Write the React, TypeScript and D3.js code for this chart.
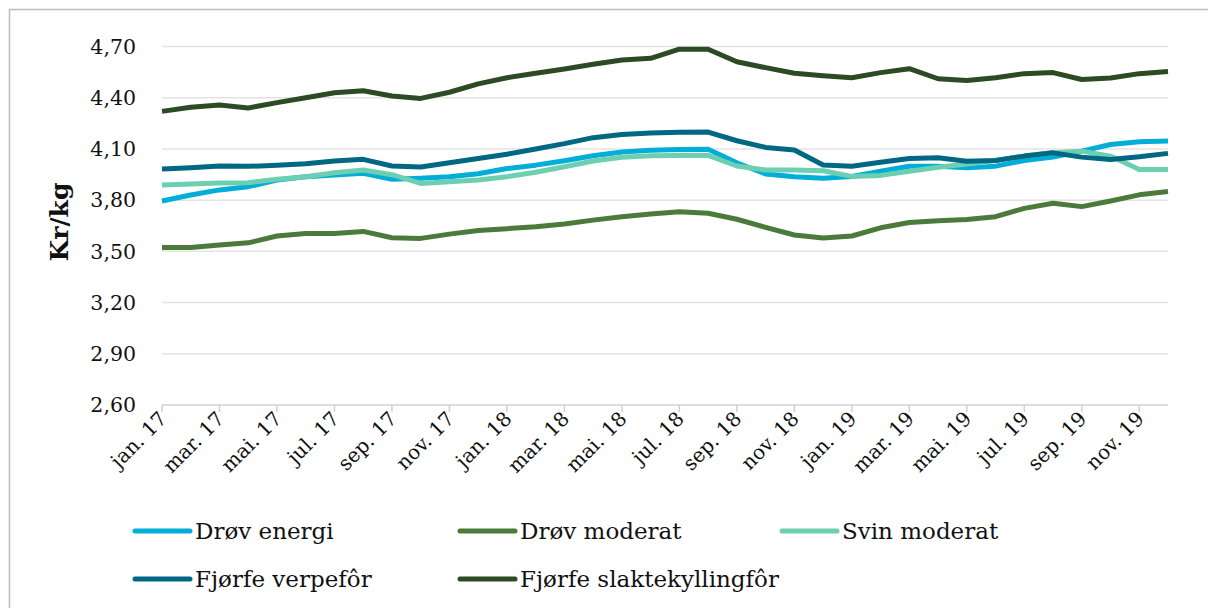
import React from "react";
import * as d3 from "d3";

const months = [
  "jan. 17","feb. 17","mar. 17","apr. 17","mai. 17","jun. 17","jul. 17","aug. 17","sep. 17","okt. 17","nov. 17","des. 17",
  "jan. 18","feb. 18","mar. 18","apr. 18","mai. 18","jun. 18","jul. 18","aug. 18","sep. 18","okt. 18","nov. 18","des. 18",
  "jan. 19","feb. 19","mar. 19","apr. 19","mai. 19","jun. 19","jul. 19","aug. 19","sep. 19","okt. 19","nov. 19","des. 19",
];

const drovEnergi = [3.795,3.83,3.86,3.879,3.918,3.937,3.947,3.957,3.922,3.928,3.937,3.955,3.985,4.005,4.031,4.06,4.082,4.092,4.096,4.098,4.019,3.953,3.937,3.928,3.939,3.969,3.999,3.999,3.989,3.999,4.032,4.052,4.087,4.126,4.142,4.146];
const drovModerat = [3.523,3.523,3.537,3.55,3.59,3.605,3.605,3.617,3.58,3.576,3.601,3.622,3.633,3.644,3.66,3.683,3.703,3.719,3.732,3.723,3.688,3.641,3.596,3.578,3.59,3.638,3.669,3.679,3.687,3.703,3.752,3.782,3.762,3.795,3.831,3.85];
const svinModerat = [3.888,3.894,3.9,3.902,3.922,3.937,3.961,3.977,3.949,3.898,3.908,3.918,3.937,3.963,3.996,4.029,4.051,4.06,4.062,4.062,4.0,3.977,3.977,3.972,3.939,3.945,3.969,3.993,4.012,4.032,4.058,4.077,4.087,4.058,3.979,3.979];
const fjorfeVerpefor = [3.982,3.99,4.0,3.998,4.004,4.013,4.029,4.039,4.0,3.994,4.019,4.044,4.069,4.1,4.131,4.166,4.185,4.193,4.197,4.199,4.148,4.109,4.094,4.006,3.999,4.022,4.044,4.048,4.028,4.032,4.058,4.077,4.052,4.038,4.054,4.074];
const fjorfeSlakte = [4.32,4.344,4.357,4.34,4.371,4.4,4.429,4.441,4.41,4.396,4.432,4.481,4.517,4.543,4.568,4.596,4.621,4.631,4.684,4.684,4.611,4.576,4.543,4.529,4.517,4.547,4.57,4.511,4.501,4.517,4.541,4.547,4.507,4.515,4.541,4.554];

const yTicks = [2.6, 2.9, 3.2, 3.5, 3.8, 4.1, 4.4, 4.7];

const series = [
  { name: "Drøv energi", values: drovEnergi, color: "#00AED8" },
  { name: "Drøv moderat", values: drovModerat, color: "#4A7B3A" },
  { name: "Svin moderat", values: svinModerat, color: "#6CCFB1" },
  { name: "Fjørfe verpefôr", values: fjorfeVerpefor, color: "#006882" },
  { name: "Fjørfe slaktekyllingfôr", values: fjorfeSlakte, color: "#2C4A24" },
];

const legendPos = [
  { x: 135, y: 531 },
  { x: 460, y: 531 },
  { x: 782, y: 531 },
  { x: 135, y: 579 },
  { x: 460, y: 579 },
];

const FONT = "'DejaVu Serif', Georgia, serif";

export default function App() {
  const x = d3.scaleLinear().domain([0, months.length - 1]).range([162, 1168]);
  const y = d3.scaleLinear().domain([2.6, 4.7]).range([405, 46.5]);
  const fmt = (v: number) => d3.format(".2f")(v).replace(".", ",");
  const line = d3
    .line<number>()
    .x((_, i) => x(i))
    .y((d) => y(d));

  return (
    <div style={{ position: "absolute", left: 0, top: 0 }}>
      <svg width={1208} height={608} style={{ display: "block", background: "#fff" }}>
        <rect x={9.5} y={9.5} width={1300} height={700} fill="none" stroke="#bdbdbd" strokeWidth={1.5} />
        {yTicks.map((t) =>
          t === 2.6 ? null : (
            <line key={"g" + t} x1={162} x2={1168} y1={y(t)} y2={y(t)} stroke="#e3e3e3" strokeWidth={1.5} />
          )
        )}
        <line x1={162} x2={1168} y1={y(2.6)} y2={y(2.6)} stroke="#d0d0d0" strokeWidth={1.5} />
        {months.map((m, i) =>
          i % 2 === 0 ? (
            <line key={"t" + i} x1={x(i)} x2={x(i)} y1={y(2.6)} y2={y(2.6) + 7} stroke="#d0d0d0" strokeWidth={1.5} />
          ) : null
        )}
        {yTicks.map((t) => (
          <text
            key={"yl" + t}
            x={136}
            y={y(t)}
            dy="0.35em"
            textAnchor="end"
            fontFamily={FONT}
            fontSize={20.5}
            fill="#111"
          >
            {fmt(t)}
          </text>
        ))}
        {months.map((m, i) =>
          i % 2 === 0 ? (
            <text
              key={"xl" + i}
              transform={`translate(${x(i) + 6},${y(2.6) + 15}) rotate(-45)`}
              textAnchor="end"
              fontFamily={FONT}
              fontSize={20}
              fill="#111"
            >
              {m}
            </text>
          ) : null
        )}
        <text
          transform={`translate(68,222) rotate(-90)`}
          textAnchor="middle"
          fontFamily={FONT}
          fontWeight="bold"
          fontSize={25}
          fill="#111"
        >
          Kr/kg
        </text>
        {series.map((s) => (
          <path
            key={s.name}
            d={line(s.values) || ""}
            fill="none"
            stroke={s.color}
            strokeWidth={5}
            strokeLinejoin="round"
          />
        ))}
        {series.map((s, i) => (
          <g key={"lg" + s.name}>
            <line
              x1={legendPos[i].x}
              x2={legendPos[i].x + 55}
              y1={legendPos[i].y}
              y2={legendPos[i].y}
              stroke={s.color}
              strokeWidth={5}
              strokeLinecap="round"
            />
            <text
              x={legendPos[i].x + 60}
              y={legendPos[i].y}
              dy="0.35em"
              fontFamily={FONT}
              fontSize={23}
              fill="#111"
            >
              {s.name}
            </text>
          </g>
        ))}
      </svg>
    </div>
  );
}
